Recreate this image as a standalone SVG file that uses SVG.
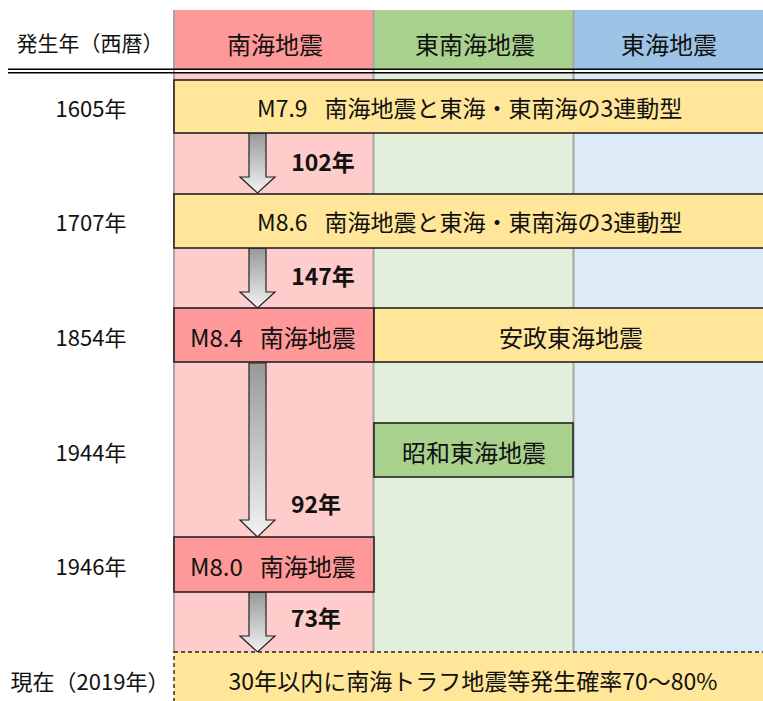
<svg xmlns="http://www.w3.org/2000/svg" width="763" height="701" viewBox="0 0 763 701">
<style>
text{font-family:"Noto Sans CJK JP","Noto Sans",sans-serif;fill:#111;dominant-baseline:central;text-anchor:middle}
.h{font-size:24px}
.hl{font-size:21px}
.b{font-size:23px}
.s{font-size:24px}
.st{text-anchor:start}
.y{font-size:22px}
.n{font-size:23px;font-weight:bold}
.box{stroke:#222;stroke-width:1.6}
.sep{stroke:#a6a6a6;stroke-width:2}
.arr{fill:url(#g);stroke:#222;stroke-width:1.2}
</style>
<defs>
<linearGradient id="g" x1="0" y1="0" x2="0" y2="1">
<stop offset="0" stop-color="#999"/>
<stop offset="1" stop-color="#f2f2f2"/>
</linearGradient>
</defs>
<rect width="763" height="701" fill="#fff"/>
<g id="columns">
<rect x="174" y="10" width="200" height="59" fill="#ff9999"/>
<rect x="374" y="10" width="200" height="59" fill="#a9d18e"/>
<rect x="574" y="10" width="189" height="59" fill="#9dc3e6"/>
<rect x="174" y="72" width="200" height="580" fill="#ffcccc"/>
<rect x="374" y="72" width="200" height="580" fill="#e2efda"/>
<rect x="574" y="72" width="189" height="580" fill="#ddebf7"/>
<line class="sep" x1="174" y1="10" x2="174" y2="652"/>
<line class="sep" x1="373.5" y1="10" x2="373.5" y2="652"/>
<line class="sep" x1="573.5" y1="10" x2="573.5" y2="652"/>
<line x1="8" y1="69.2" x2="763" y2="69.2" stroke="#000" stroke-width="1.6"/>
<line x1="8" y1="72.8" x2="763" y2="72.8" stroke="#000" stroke-width="1.6"/>
<text class="hl" x="90" y="42">発生年（西暦）</text>
<text class="h" x="275" y="43">南海地震</text>
<text class="h" x="475" y="43">東南海地震</text>
<text class="h" x="669" y="43">東海地震</text>
</g>
<g id="years">
<text class="y" x="91" y="107">1605年</text>
<text class="y" x="91" y="221">1707年</text>
<text class="y" x="91" y="336">1854年</text>
<text class="y" x="91" y="451">1944年</text>
<text class="y" x="91" y="565">1946年</text>
<text class="y" x="90" y="680">現在（2019年）</text>
</g>
<g id="connectors">
<path class="arr" d="M249,133 H266 V177 H275 L257.5,193 L240,177 H249 Z"/>
<path class="arr" d="M249,248 H266 V292 H275 L257.5,308 L240,292 H249 Z"/>
<path class="arr" d="M249,363 H266 V520 H275 L257.5,537 L240,520 H249 Z"/>
<path class="arr" d="M249,592 H266 V636 H275 L257.5,652 L240,636 H249 Z"/>
<text class="n" x="323" y="161">102年</text>
<text class="n" x="323" y="275">147年</text>
<text class="n" x="316" y="503">92年</text>
<text class="n" x="316" y="617">73年</text>
</g>
<g id="e1605">
<rect class="box" x="174" y="80" width="590" height="53" fill="#ffe699"/>
<text class="b st" x="257" y="107">M7.9<tspan dx="17">南海地震と東海・東南海の3連動型</tspan></text>
</g>
<g id="e1707">
<rect class="box" x="174" y="194" width="590" height="54" fill="#ffe699"/>
<text class="b st" x="257" y="221">M8.6<tspan dx="17">南海地震と東海・東南海の3連動型</tspan></text>
</g>
<g id="e1854n">
<rect class="box" x="174" y="308" width="200" height="54" fill="#ff9999"/>
<text class="s st" x="190" y="336">M8.4<tspan dx="17">南海地震</tspan></text>
</g>
<g id="e1854t">
<rect class="box" x="374" y="308" width="390" height="54" fill="#ffe699"/>
<text class="s" x="571" y="336">安政東海地震</text>
</g>
<g id="e1944">
<rect class="box" x="374" y="423" width="199" height="54" fill="#a9d18e"/>
<text class="s" x="474" y="451">昭和東海地震</text>
</g>
<g id="e1946">
<rect class="box" x="174" y="537" width="200" height="55" fill="#ff9999"/>
<text class="s st" x="190" y="565">M8.0<tspan dx="17">南海地震</tspan></text>
</g>
<g id="now">
<rect x="174" y="652" width="595" height="60" fill="#ffe699" stroke="#222" stroke-width="1.4" stroke-dasharray="4,3"/>
<text class="b" x="473" y="680">30年以内に南海トラフ地震等発生確率70～80%</text>
</g>
</svg>
